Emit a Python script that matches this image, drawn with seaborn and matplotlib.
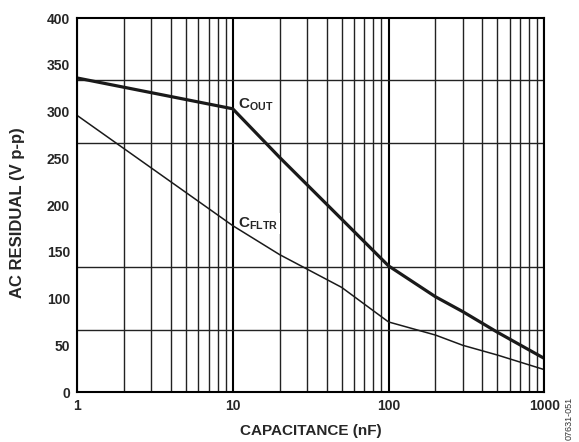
import matplotlib
matplotlib.use("Agg")
import matplotlib.pyplot as plt
import numpy as np
import pandas as pd
import seaborn as sns
from matplotlib.ticker import FixedLocator, LogLocator, MultipleLocator, NullFormatter

# values
cap_nf = [1, 10, 20, 50, 100, 200, 300, 500, 1000]
c_out = [336, 303, 251, 185, 135, 102, 86, 64, 36]
c_fltr = [296, 178, 147, 112, 75, 61, 50, 39.6, 24]
series_names = ["COUT", "CFLTR"]
y_ticks = [0, 50, 100, 150, 200, 250, 300, 350, 400]
x_ticks = [1, 10, 100, 1000]


def main():
    sns.set_style("white")
    plt.rcParams["font.family"] = ["Liberation Sans", "DejaVu Sans"]
    plt.rcParams["font.weight"] = "bold"
    plt.rcParams["mathtext.fontset"] = "custom"
    plt.rcParams["mathtext.rm"] = "Liberation Sans:bold"
    plt.rcParams["mathtext.bf"] = "Liberation Sans:bold"

    df = pd.DataFrame({
        "cap": cap_nf * 2,
        "residual": c_out + c_fltr,
        "series": [series_names[0]] * len(cap_nf) + [series_names[1]] * len(cap_nf),
    })

    fig = plt.figure(figsize=(5.79, 4.42), dpi=100)
    ax = fig.add_axes([0.133, 0.113, 0.807, 0.846])

    sns.lineplot(data=df, x="cap", y="residual", hue="series", size="series",
                 sizes={"COUT": 2.3, "CFLTR": 1.1},
                 palette={"COUT": "#1a1a1a", "CFLTR": "#1a1a1a"},
                 legend=False, ax=ax, zorder=5)

    ax.set_xscale("log")
    ax.set_xlim(1, 1000)
    ax.set_ylim(0, 400)

    ax.xaxis.set_major_locator(FixedLocator(x_ticks))
    ax.set_xticklabels([str(t) for t in x_ticks])
    ax.xaxis.set_minor_locator(LogLocator(base=10, subs=np.arange(2, 10)))
    ax.xaxis.set_minor_formatter(NullFormatter())
    ax.yaxis.set_major_locator(FixedLocator(y_ticks))
    ax.yaxis.set_minor_locator(MultipleLocator(400 / 6))

    ax.grid(False)
    ax.grid(True, which="major", axis="x", color="black", lw=1.5)
    ax.grid(True, which="minor", axis="x", color="#222222", lw=1.0)
    ax.grid(True, which="minor", axis="y", color="#222222", lw=1.0)

    ax.tick_params(which="both", length=0, labelsize=10, pad=5)
    for lbl in ax.get_xticklabels() + ax.get_yticklabels():
        lbl.set_fontweight("bold")

    for s in ax.spines.values():
        s.set_color("black")
        s.set_linewidth(1.5)
        s.set_zorder(6)

    ax.set_xlabel("CAPACITANCE (nF)", fontsize=11, fontweight="bold", labelpad=8)
    ax.set_ylabel("AC RESIDUAL (V p-p)", fontsize=12, fontweight="bold")
    ax.yaxis.set_label_coords(-0.112, 0.48)

    box = dict(facecolor="white", edgecolor="none", pad=1.5)
    ax.text(10.8, 307, r"C$_{\mathrm{OUT}}$", fontsize=11, fontweight="bold",
            va="center", ha="left", bbox=box, zorder=4)
    ax.text(10.8, 180, r"C$_{\mathrm{FLTR}}$", fontsize=11, fontweight="bold",
            va="center", ha="left", bbox=box, zorder=4)

    fig.text(0.983, 0.004, "07631-051", rotation=90, fontsize=6.5, fontweight="normal",
             color="#333333", ha="center", va="bottom")

    fig.savefig("out.png", dpi=100)
    plt.close(fig)


if __name__ == "__main__":
    main()
